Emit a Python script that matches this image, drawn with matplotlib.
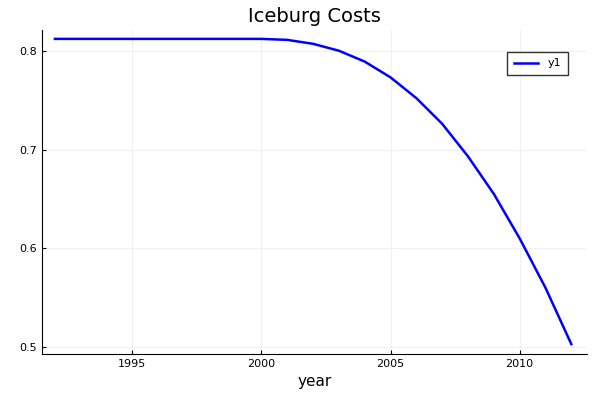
import matplotlib
matplotlib.use("Agg")
import matplotlib.pyplot as plt

years = list(range(1992, 2013))
costs = [0.812] * 9 + [0.811, 0.807, 0.800, 0.789, 0.773, 0.752, 0.726,
                       0.693, 0.655, 0.610, 0.560, 0.503]

fig = plt.figure(figsize=(6, 4), dpi=100)
ax = fig.add_axes([0.07, 0.115, 0.908, 0.81])
ax.plot(years, costs, color="blue", linewidth=1.8, label="y1")
ax.set_xlim(1991.5, 2012.6)
ax.set_ylim(0.493, 0.821)
ax.set_xticks([1995, 2000, 2005, 2010])
ax.set_yticks([0.5, 0.6, 0.7, 0.8])
ax.grid(True, color="#f0f0f0", linewidth=0.8)
for s in ["top", "right"]:
    ax.spines[s].set_visible(False)
ax.tick_params(labelsize=8, length=3, direction="in")
ax.set_xlabel("year", fontsize=11)
ax.set_title("Iceburg Costs", fontsize=14)
ax.legend(loc="upper right", bbox_to_anchor=(0.975, 0.95), fontsize=8,
          fancybox=False, edgecolor="black", handlelength=2.2,
          borderpad=0.6)
fig.savefig("out.png")
